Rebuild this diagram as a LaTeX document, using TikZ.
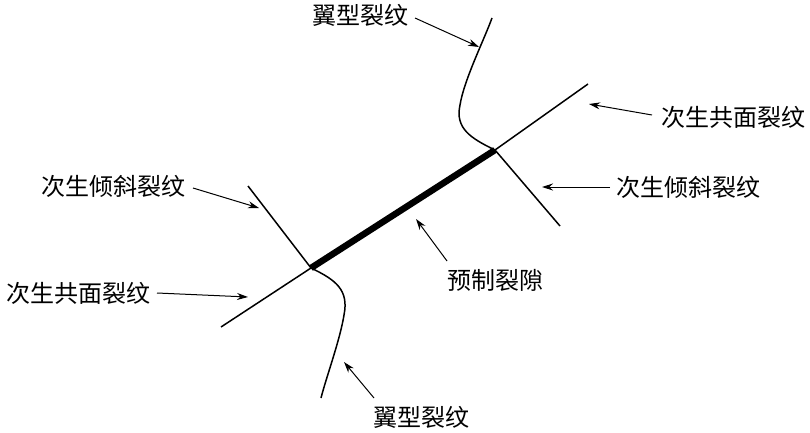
\documentclass[tikz,border=0pt]{standalone}
\usepackage{fontspec}
\newfontfamily\cjk{Noto Sans CJK SC}
\usetikzlibrary{arrows.meta}
\begin{document}
\begin{tikzpicture}[x=1pt,y=-1pt,
  crack/.style={line width=1.5pt},
  slot/.style={line width=6.5pt},
  lbl/.style={font=\cjk\fontsize{24}{26}\selectfont, inner sep=0pt},
  ptr/.style={line width=1pt, -{Stealth[length=11pt,width=7pt]}}]
\useasboundingbox (0,0) rectangle (810,433);
% crack geometry
\coordinate (L) at (311,268);
\coordinate (R) at (495,150);
\coordinate (cpR) at (588,84);
\coordinate (cpL) at (221,327);
\coordinate (inR) at (560,226);
\coordinate (inL) at (248,186);
\coordinate (wU) at (492,18);
\coordinate (wD) at (321,398);
\draw[crack] (R) -- (cpR);
\draw[crack] (L) -- (cpL);
\draw[crack] (R) -- (inR);
\draw[crack] (L) -- (inL);
\draw[crack] (R) .. controls (470,138) and (455,128) .. (460,105)
              .. controls (464,80) and (484,40) .. (wU);
\draw[crack] (L) .. controls (336,280) and (349,290) .. (344,315)
              .. controls (340,340) and (326,378) .. (wD);
\draw[slot, line cap=butt] (L) -- (R);
% labels
\node[lbl] (tWU) at (360,15) {翼型裂纹};
\node[lbl] (tWD) at (421,417) {翼型裂纹};
\node[lbl] (tCR) at (733,117) {次生共面裂纹};
\node[lbl] (tIR) at (688,187) {次生倾斜裂纹};
\node[lbl] (tIL) at (113,186) {次生倾斜裂纹};
\node[lbl] (tCL) at (78,293) {次生共面裂纹};
\node[lbl] (tS) at (495,280) {预制裂隙};
% pointer ends
\coordinate (aWU) at (415,18);   \coordinate (hWU) at (479,47);
\coordinate (aWD) at (374,398);  \coordinate (hWD) at (344,362);
\coordinate (aCR) at (652,115);  \coordinate (hCR) at (589,104);
\coordinate (aIR) at (610,187);  \coordinate (hIR) at (542,187);
\coordinate (aIL) at (193,188);  \coordinate (hIL) at (259,208);
\coordinate (aCL) at (157,293);  \coordinate (hCL) at (248,297);
\coordinate (aS) at (447,261);   \coordinate (hS) at (416,219);
\draw[ptr] (aWU) -- (hWU);
\draw[ptr] (aWD) -- (hWD);
\draw[ptr] (aCR) -- (hCR);
\draw[ptr] (aIR) -- (hIR);
\draw[ptr] (aIL) -- (hIL);
\draw[ptr] (aCL) -- (hCL);
\draw[ptr] (aS) -- (hS);
\end{tikzpicture}
\end{document}
